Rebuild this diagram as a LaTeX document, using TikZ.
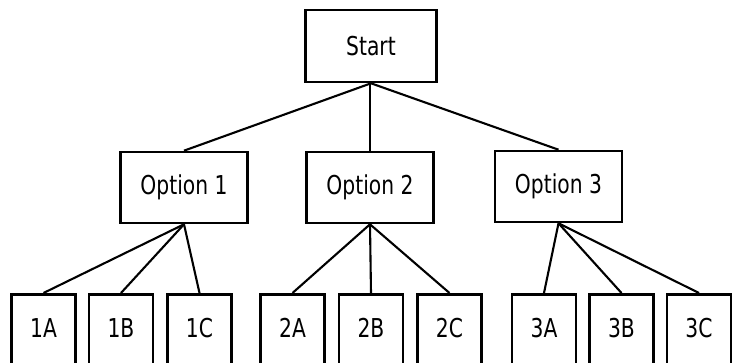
\documentclass[tikz,border=0pt]{standalone}
\usepackage{fontspec}
\newfontfamily\boxfont[FakeStretch=0.78]{DejaVu Sans}
\begin{document}
\begin{tikzpicture}[x=1pt,y=-1pt,
  box/.style={draw=black, line width=2.6pt, inner sep=0pt,
    font=\boxfont\fontsize{26}{26}\selectfont},
  upper/.style={box, minimum width=127pt, minimum height=71pt},
  leaf/.style={box, anchor=north, minimum width=64pt,
    text height=43pt, text depth=45pt},
  link/.style={line width=2.1pt},
  thinlink/.style={line width=1.2pt}]
  \useasboundingbox (0,0) rectangle (732,363);
  \clip (0,0) rectangle (732,363);

  % root and first level
  \node[upper, minimum width=131pt, minimum height=72pt] (start) at (371,46) {Start};
  \node[upper] (opt1) at (184,187.5) {Option 1};
  \node[upper] (opt2) at (370,187.5) {Option 2};
  \node[upper] (opt3) at (558.5,186.5) {Option 3};

  % leaves (their lower edges run past the bottom of the picture)
  \node[leaf] (l1a) at (43.5,293) {1A};
  \node[leaf] (l1b) at (121,293) {1B};
  \node[leaf] (l1c) at (199.5,293) {1C};
  \node[leaf] (l2a) at (292.5,293) {2A};
  \node[leaf] (l2b) at (371,293) {2B};
  \node[leaf] (l2c) at (449.5,293) {2C};
  \node[leaf] (l3a) at (544,293) {3A};
  \node[leaf] (l3b) at (621.5,293) {3B};
  \node[leaf] (l3c) at (699,293) {3C};

  % connectors
  \draw[link] (start.south) -- (opt1.north);
  \draw[thinlink] (opt2.north |- start.south) -- (opt2.north);
  \draw[link] (start.south) -- (opt3.north);

  \foreach \p/\a/\b/\c in {opt1/l1a/l1b/l1c, opt2/l2a/l2b/l2c, opt3/l3a/l3b/l3c}{
    \draw[link] (\p.south) -- (\a.north);
    \draw[link] (\p.south) -- (\b.north);
    \draw[link] (\p.south) -- (\c.north);
  }
\end{tikzpicture}
\end{document}
